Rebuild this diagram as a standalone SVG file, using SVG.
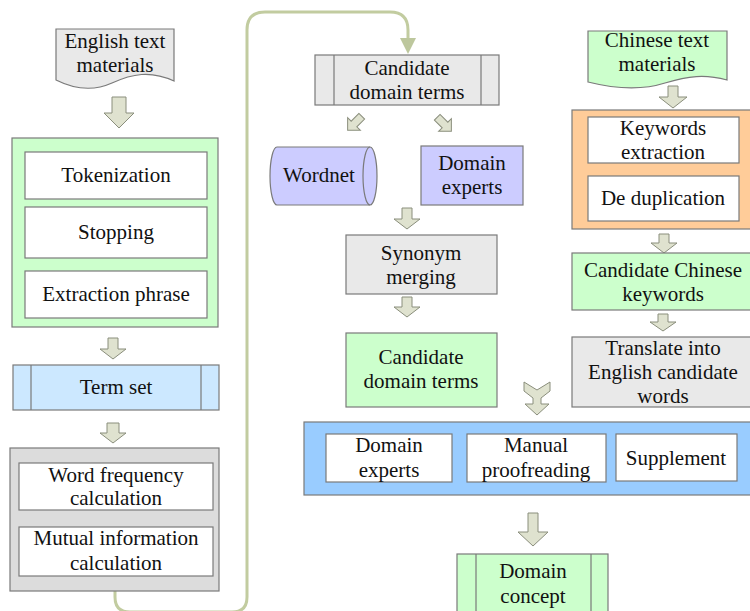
<svg xmlns="http://www.w3.org/2000/svg" width="750" height="611" viewBox="0 0 750 611">
<style>
text{font-family:"Liberation Serif","Times New Roman","DejaVu Serif",serif;font-size:21px;fill:#111;text-anchor:middle}
.box{stroke:#7a7a7a;stroke-width:1.2}
.w{fill:#fff}
.g{fill:#e9e9e9}
.gr{fill:#ccffcc}
.bl{fill:#cce8ff}
.pu{fill:#ccccff}
.arr{fill:#dfe2cf;stroke:#8a8e7c;stroke-width:1}
.conn{fill:none;stroke:#c2cca0;stroke-width:3}
</style>
<rect width="750" height="611" fill="#fff"/>

<g id="connectors">
<path class="conn" d="M115,591 V597 Q115,612 130,612 H232 Q247,612 247,597 V30 Q247,12 265,12 H390 Q408,12 408,30 V40"/>
<path d="M400,38 H416 L408,54 Z" fill="#bdc79d"/>
<path class="arr" d="M112,97 V113 H104 L119,128 L134,113 H126 V97 Z"/>
<path class="arr" d="M108,338 V349 H100 L113,359 L126,349 H118 V338 Z"/>
<path class="arr" d="M107,423 V433 H100 L113,443 L126,433 H119 V423 Z"/>
<path class="arr" d="M402,208 V219 H394 L407,229 L420,219 H412 V208 Z"/>
<path class="arr" d="M402,297 V307 H394 L407,317 L420,307 H412 V297 Z"/>
<path class="arr" d="M668,86 V97 H659 L673,108 L687,97 H678 V86 Z"/>
<path class="arr" d="M659,234 V243 H651 L664,253 L677,243 H669 V234 Z"/>
<path class="arr" d="M658,314 V322 H650 L663,331 L676,322 H668 V314 Z"/>
<path class="arr" d="M528,513 V532 H518 L533,546 L548,532 H538 V513 Z"/>
<path class="arr" d="M524,382 L537,390 L550,382 V391 L541,398 V404 H549 L537,415 L525,404 H533 V398 L524,391 Z"/>
<path class="arr" transform="translate(354,124) rotate(45)" d="M-4,-11 V0 H-9 L0,9 L9,0 H4 V-11 Z"/>
<path class="arr" transform="translate(445,125) rotate(-45)" d="M-4,-11 V0 H-9 L0,9 L9,0 H4 V-11 Z"/>
</g>

<g id="english-materials">
<path class="box g" d="M56,29 H174 V81 C150,70 132,74 112,83 C92,92 72,88 56,80 Z"/>
<text x="115" y="48">English text</text>
<text x="115" y="72">materials</text>
</g>

<g id="preprocess">
<rect class="box gr" x="12" y="138" width="206" height="189"/>
</g>
<g id="tokenization">
<rect class="box w" x="25" y="152" width="182" height="47"/>
<text x="116" y="182">Tokenization</text>
</g>
<g id="stopping">
<rect class="box w" x="25" y="207" width="182" height="51"/>
<text x="116" y="239">Stopping</text>
</g>
<g id="extraction-phrase">
<rect class="box w" x="25" y="271" width="182" height="47"/>
<text x="116" y="301">Extraction phrase</text>
</g>

<g id="term-set">
<rect class="box bl" x="13" y="365" width="206" height="45"/>
<line class="box" x1="31" y1="365" x2="31" y2="410"/>
<line class="box" x1="201" y1="365" x2="201" y2="410"/>
<text x="116" y="394">Term set</text>
</g>

<g id="calc-group">
<rect class="box" fill="#dcdcdc" x="10" y="448" width="209" height="143"/>
</g>
<g id="word-frequency">
<rect class="box w" x="19" y="463" width="194" height="47"/>
<text x="116" y="482">Word frequency</text>
<text x="116" y="505">calculation</text>
</g>
<g id="mutual-information">
<rect class="box w" x="19" y="527" width="194" height="49"/>
<text x="116" y="545">Mutual information</text>
<text x="116" y="570">calculation</text>
</g>

<g id="candidate-terms-top">
<rect class="box g" x="315" y="55" width="184" height="50"/>
<line class="box" x1="334" y1="55" x2="334" y2="105"/>
<line class="box" x1="481" y1="55" x2="481" y2="105"/>
<text x="407" y="75">Candidate</text>
<text x="407" y="99">domain terms</text>
</g>

<g id="wordnet">
<path class="box pu" d="M277,147 H370 A7,29 0 0 1 370,205 H277 A7,29 0 0 1 277,147 Z"/>
<path class="box" fill="none" d="M370,147 A7,29 0 0 0 370,205"/>
<text x="319" y="182">Wordnet</text>
</g>

<g id="domain-experts-top">
<rect class="box pu" x="421" y="146" width="102" height="59"/>
<text x="472" y="170">Domain</text>
<text x="472" y="194">experts</text>
</g>

<g id="synonym-merging">
<rect class="box g" x="346" y="235" width="151" height="59"/>
<text x="421" y="260">Synonym</text>
<text x="421" y="284">merging</text>
</g>

<g id="candidate-terms-green">
<rect class="box gr" x="346" y="333" width="151" height="74"/>
<text x="421" y="364">Candidate</text>
<text x="421" y="388">domain terms</text>
</g>

<g id="chinese-materials">
<path class="box gr" d="M588,31 H727 V80 C705,74 688,76 665,83 C640,91 612,88 588,82 Z"/>
<text x="657" y="47">Chinese text</text>
<text x="657" y="71">materials</text>
</g>

<g id="chinese-process">
<rect class="box" fill="#ffcc99" x="572" y="110" width="182" height="119"/>
</g>
<g id="keywords-extraction">
<rect class="box w" x="588" y="117" width="151" height="46"/>
<text x="663" y="135">Keywords</text>
<text x="663" y="159">extraction</text>
</g>
<g id="de-duplication">
<rect class="box w" x="588" y="176" width="151" height="45"/>
<text x="663" y="205">De duplication</text>
</g>

<g id="candidate-chinese">
<rect class="box gr" x="572" y="253" width="182" height="57"/>
<text x="663" y="277">Candidate Chinese</text>
<text x="663" y="301">keywords</text>
</g>

<g id="translate">
<rect class="box g" x="572" y="337" width="182" height="70"/>
<text x="663" y="355">Translate into</text>
<text x="663" y="379">English candidate</text>
<text x="663" y="403">words</text>
</g>

<g id="review-band">
<rect class="box" fill="#99ccff" x="304" y="422" width="450" height="73"/>
</g>
<g id="domain-experts-band">
<rect class="box w" x="326" y="434" width="126" height="48"/>
<text x="389" y="452">Domain</text>
<text x="389" y="477">experts</text>
</g>
<g id="manual-proofreading">
<rect class="box w" x="467" y="434" width="139" height="48"/>
<text x="536" y="452">Manual</text>
<text x="536" y="477">proofreading</text>
</g>
<g id="supplement">
<rect class="box w" x="616" y="434" width="121" height="47"/>
<text x="676" y="465">Supplement</text>
</g>

<g id="domain-concept">
<rect class="box gr" x="457" y="554" width="151" height="62"/>
<line class="box" x1="476" y1="554" x2="476" y2="616"/>
<line class="box" x1="591" y1="554" x2="591" y2="616"/>
<text x="533" y="578">Domain</text>
<text x="533" y="603">concept</text>
</g>
</svg>
